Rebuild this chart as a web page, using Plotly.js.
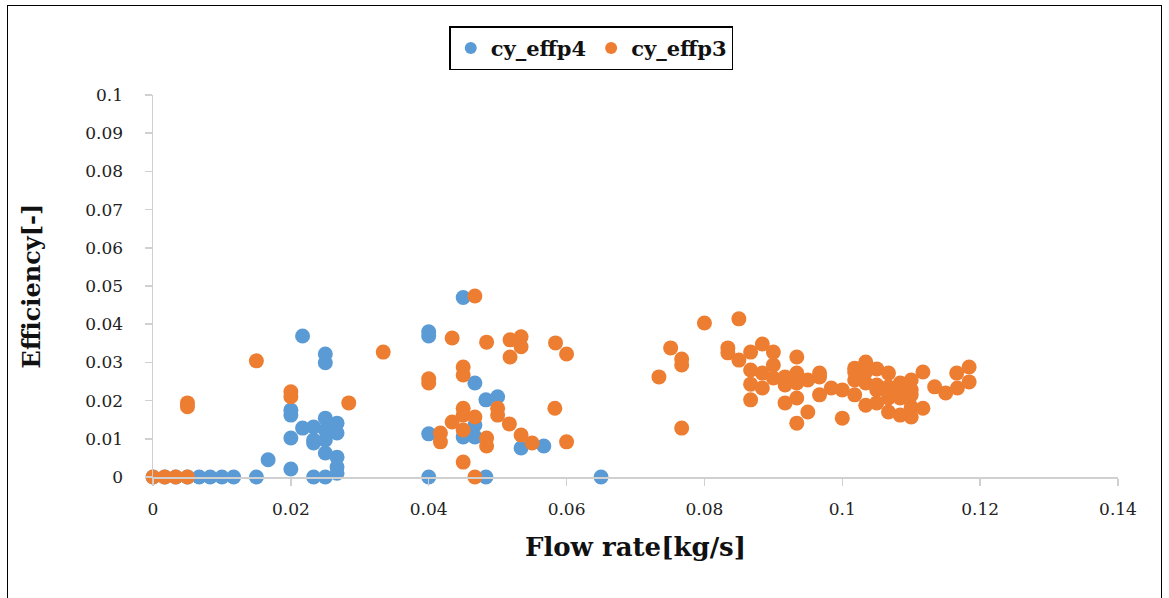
<!DOCTYPE html>
<html>
<head>
<meta charset="utf-8">
<script src="https://cdn.plot.ly/plotly-3.0.1.min.js"></script>
<style>
  html, body { margin: 0; padding: 0; background: #fff; }
  #frame { position: absolute; left: 7px; top: 5px; width: 1155px; height: 600px; border: 1.5px solid #000; box-sizing: border-box; pointer-events: none; z-index: 5; }
  #chart { width: 1169px; height: 598px; }
</style>
</head>
<body>
<div id="frame"></div>
<div id="chart"></div>
<script>
// Series cy_effp4: flow rate [kg/s] and efficiency [-]
const p4Flow = [
  0, 0.0017, 0.0033, 0.005, 0.0067, 0.0083, 0.01, 0.0117, 0.015, 0.0233, 0.025, 0.04, 0.0483, 0.065,
  0.0167,
  0.02, 0.02, 0.02, 0.02,
  0.0217, 0.0217,
  0.025, 0.025,
  0.0233, 0.0233, 0.0233,
  0.025, 0.025, 0.025, 0.025,
  0.0267, 0.0267, 0.0267, 0.0267, 0.0267,
  0.04, 0.04, 0.04,
  0.045,
  0.0467, 0.0483, 0.05,
  0.045, 0.0467, 0.0467,
  0.0534, 0.0567
];
const p4Eff = [
  0, 0, 0, 0, 0, 0, 0, 0, 0, 0, 0, 0, 0, 0,
  0.0045,
  0.0021, 0.0102, 0.0162, 0.0175,
  0.0369, 0.0128,
  0.0322, 0.0299,
  0.0131, 0.0097, 0.0089,
  0.0154, 0.0123, 0.0097, 0.0063,
  0.0141, 0.0115, 0.0052, 0.0026, 0.001,
  0.038, 0.0369, 0.0113,
  0.047,
  0.0246, 0.0202, 0.021,
  0.0105, 0.0105, 0.0136,
  0.0076, 0.0081
];

// Series cy_effp3: flow rate [kg/s] and efficiency [-]
const p3Flow = [
  0, 0.0017, 0.0033, 0.005, 0.0467,
  0.005, 0.005,
  0.015,
  0.02, 0.02,
  0.0284,
  0.0334,
  0.04, 0.04,
  0.0434,
  0.045, 0.045,
  0.0467,
  0.0484,
  0.0518, 0.0534, 0.0534, 0.0518,
  0.0584, 0.06,
  0.0583,
  0.06,
  0.045, 0.045, 0.0434, 0.0467, 0.045,
  0.0417, 0.0417,
  0.0484, 0.0484,
  0.05, 0.05,
  0.0517, 0.0534, 0.055,
  0.045,
  0.0734,
  0.0751,
  0.0767, 0.0767, 0.0767,
  0.08,
  0.085,
  0.0834, 0.0834,
  0.085,
  0.0867, 0.0867, 0.0867, 0.0867,
  0.0884, 0.0884, 0.0884,
  0.09, 0.09, 0.09,
  0.0917, 0.0917, 0.0917,
  0.0934, 0.0934, 0.0934, 0.0934, 0.0934,
  0.095, 0.095,
  0.0967, 0.0967, 0.0967,
  0.0984,
  0.1, 0.1,
  0.1018, 0.1018, 0.1018, 0.1018,
  0.1034, 0.1034, 0.1034, 0.1034,
  0.105, 0.105, 0.105, 0.105,
  0.1067, 0.1067, 0.1067, 0.1067,
  0.1084, 0.1084, 0.1084, 0.1084,
  0.11, 0.11, 0.11, 0.11, 0.11,
  0.1117, 0.1117,
  0.1134,
  0.115,
  0.1167, 0.1166,
  0.1184, 0.1184
];
const p3Eff = [
  0, 0, 0, 0, 0,
  0.0194, 0.0184,
  0.0304,
  0.0223, 0.021,
  0.0194,
  0.0327,
  0.0257, 0.0246,
  0.0364,
  0.0288, 0.0267,
  0.0474,
  0.0353,
  0.0359, 0.0367, 0.0341, 0.0314,
  0.0351, 0.0322,
  0.018,
  0.0092,
  0.018, 0.0162, 0.0144, 0.0157, 0.0123,
  0.0115, 0.0092,
  0.0102, 0.0081,
  0.018, 0.0162,
  0.0139, 0.011, 0.0089,
  0.0039,
  0.0262,
  0.0338,
  0.0309, 0.0293, 0.0128,
  0.0403,
  0.0414,
  0.0338, 0.0325,
  0.0306,
  0.0327, 0.028, 0.0243, 0.0202,
  0.0348, 0.0272, 0.0233,
  0.0327, 0.0293, 0.0259,
  0.0262, 0.0241, 0.0194,
  0.0314, 0.0272, 0.0246, 0.0207, 0.0141,
  0.0254, 0.017,
  0.0272, 0.0262, 0.0215,
  0.0233,
  0.0228, 0.0154,
  0.0285, 0.0254, 0.0215, 0.0275,
  0.0301, 0.0275, 0.0246, 0.0188,
  0.0283, 0.0228, 0.0194, 0.0241,
  0.0272, 0.0236, 0.017, 0.0207,
  0.0246, 0.0207, 0.0162, 0.0228,
  0.0254, 0.0228, 0.0183, 0.0157, 0.0215,
  0.0275, 0.018,
  0.0236,
  0.022,
  0.0233, 0.0272,
  0.0288, 0.0249
];

const seriesNames = ['cy_effp4', 'cy_effp3'];
const xTicks = [0, 0.02, 0.04, 0.06, 0.08, 0.1, 0.12, 0.14];
const yTicks = [0, 0.01, 0.02, 0.03, 0.04, 0.05, 0.06, 0.07, 0.08, 0.09, 0.1];

const serif = 'DejaVu Serif';

const traces = [
  {
    type: 'scatter', mode: 'markers', name: seriesNames[0],
    x: p4Flow, y: p4Eff,
    marker: { color: '#5b9bd5', size: 15, line: { width: 0 } },
    cliponaxis: false
  },
  {
    type: 'scatter', mode: 'markers', name: seriesNames[1],
    x: p3Flow, y: p3Eff,
    marker: { color: '#ed7d31', size: 15, line: { width: 0 } },
    cliponaxis: false
  }
];

// Light gray axis line with outside ticks, serif tick labels
function axisStyle(extra) {
  return Object.assign({
    showgrid: false, zeroline: false,
    showline: true, linecolor: '#d0d0d0', linewidth: 1.5,
    ticks: 'outside', ticklen: 7, tickwidth: 1.5, tickcolor: '#d0d0d0',
    tickfont: { family: serif, size: 17, color: '#222' }
  }, extra);
}

const layout = {
  width: 1169, height: 598,
  margin: { l: 153, r: 51, t: 95, b: 121 },
  paper_bgcolor: '#fff', plot_bgcolor: '#fff',
  font: { family: serif, size: 17, color: '#222' },
  showlegend: true,
  legend: {
    orientation: 'h', x: 0.307, y: 1.18, xanchor: 'left', yanchor: 'top',
    bordercolor: '#000', borderwidth: 1.5, bgcolor: '#fff',
    font: { family: serif, size: 21, color: '#111', weight: 'bold' },
    itemsizing: 'constant', itemwidth: 30
  },
  xaxis: axisStyle({
    range: [0, 0.14], tickvals: xTicks, ticktext: xTicks.map(String),
    ticklabelstandoff: 9,
    title: { text: 'Flow rate[kg/s]', font: { family: serif, size: 26, color: '#111', weight: 'bold' }, standoff: 20 }
  }),
  yaxis: axisStyle({
    range: [0, 0.1], tickvals: yTicks, ticktext: yTicks.map(String),
    ticklabelstandoff: 18,
    title: { text: 'Efficiency[-]', font: { family: serif, size: 24, color: '#111', weight: 'bold' }, standoff: 38 }
  })
};

Plotly.newPlot('chart', traces, layout, { displayModeBar: false, staticPlot: true });
</script>
</body>
</html>
